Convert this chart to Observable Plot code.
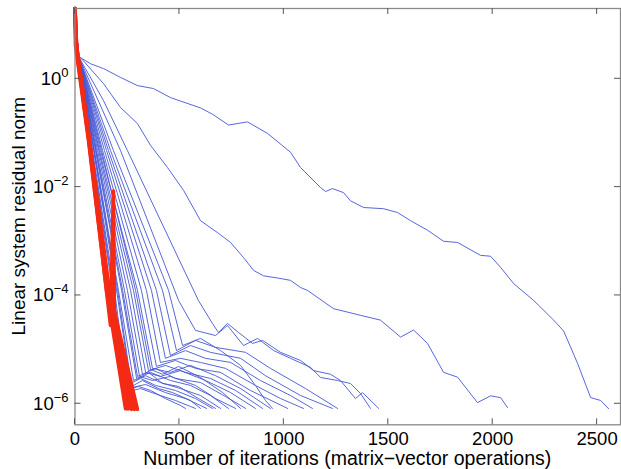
<!DOCTYPE html>
<html><head><meta charset="utf-8">
<script src="https://cdn.jsdelivr.net/npm/d3@7"></script>
<script src="https://cdn.jsdelivr.net/npm/@observablehq/plot@0.6"></script>
<style>
html,body{margin:0;padding:0;background:#fff;}
#chart{width:621px;height:469px;}
</style></head><body><div id="chart"></div>
<script>
const xTicks = [0, 500, 1000, 1500, 2000, 2500];
const yTicks = [1e0, 1e-2, 1e-4, 1e-6];
const xLabel = "Number of iterations (matrix\u2212vector operations)";
const yLabel = "Linear system residual norm";

// blue runs: [iteration, residual norm]
const blueRuns = [
  [[0,18],[17,2.58],[74,1.9],[136,1.55],[218,1.06],[299,0.75],[376,0.66],[457,0.45],[601,0.29],[660,0.22],[735,0.14],[826,0.16],[922,0.098],[1032,0.044],[1080,0.023],[1176,0.0098],[1200,0.0083],[1233,0.0094],[1286,0.0079],[1319,0.0056],[1382,0.0042],[1477,0.0040],[1544,0.0034],[1607,0.0024],[1688,0.0016],[1765,0.0010],[1832,0.00095],[1942,0.00055],[1990,0.00053],[2038,0.00033],[2100,0.000166],[2196,8.1e-5],[2292,3.5e-5],[2340,2.2e-5],[2407,5.5e-6],[2469,1.3e-6],[2517,1.15e-6],[2555,8.1e-7]],
  [[0,18],[17,2.58],[26,2.47],[136,0.82],[218,0.295],[299,0.149],[362,0.0587],[443,0.023],[520,0.0087],[601,0.0024],[682,0.00145],[745,0.00095],[807,0.0005],[855,0.00029],[903,0.00023],[970,0.00021],[1032,0.00019],[1080,1.4e-4],[1113,0.000124],[1238,5.7e-5],[1367,4.3e-5],[1463,3.5e-5],[1559,1.7e-5],[1621,2.3e-5],[1688,1.3e-5],[1765,3.8e-6],[1832,3.1e-6],[1927,1.05e-6],[1990,1.4e-6],[2038,1.3e-6],[2071,8.5e-7]],
  [[0,18],[17,2.58],[136,0.40],[251,0.0475],[591,8.07e-5],[658,3.04e-5],[687,2.07e-5],[730,3.04e-5],[783,2.07e-5],[850,1.30e-5],[898,1.48e-5],[984,8.9e-6],[1080,6.3e-6],[1142,4.1e-6],[1224,3.5e-6],[1271,2.69e-6],[1343,1.25e-6],[1377,1.61e-6],[1454,8.2e-7]],
  [[0,18],[17,2.58],[218,0.0475],[496,8.07e-5],[577,2.26e-5],[673,1.82e-5],[730,2.79e-5],[807,1.19e-5],[874,1.61e-5],[951,9.6e-6],[1032,6.9e-6],[1128,4.7e-6],[1176,3.06e-6],[1257,2.69e-6],[1319,2.37e-6],[1367,1.55e-6],[1415,8.2e-7]],
  [[0,18],[17,2.58],[79,0.0475],[180,1.24e-4],[237,1.61e-6],[314,1.91e-6],[409,1.42e-6],[481,1.15e-6],[553,8.9e-7],[577,8.2e-7]],
  [[0,18],[17,2.58],[81,0.0475],[184,1.24e-4],[247,1.76e-6],[304,2.09e-6],[362,1.76e-6],[433,1.25e-6],[505,9.3e-7],[529,8.2e-7]],
  [[0,18],[17,2.58],[84,0.0475],[189,1.24e-4],[251,1.91e-6],[338,2.27e-6],[433,1.61e-6],[529,1.25e-6],[601,9.3e-7],[630,8.2e-7]],
  [[0,18],[17,2.58],[89,0.0475],[199,1.24e-4],[266,2.37e-6],[314,2.93e-6],[386,2.18e-6],[481,1.76e-6],[577,1.25e-6],[658,8.2e-7]],
  [[0,18],[17,2.58],[91,0.0475],[204,1.24e-4],[271,2.09e-6],[323,2.69e-6],[400,1.91e-6],[467,1.61e-6],[553,1.15e-6],[601,8.2e-7]],
  [[0,18],[17,2.58],[93,0.0475],[208,1.24e-4],[280,2.69e-6],[338,3.3e-6],[409,2.47e-6],[505,1.91e-6],[601,1.42e-6],[697,8.2e-7]],
  [[0,18],[17,2.58],[98,0.0475],[223,1.24e-4],[295,2.93e-6],[362,3.8e-6],[457,2.69e-6],[553,2.18e-6],[649,1.42e-6],[735,8.2e-7]],
  [[0,18],[17,2.58],[100,0.0475],[228,1.24e-4],[299,3.2e-6],[352,3.8e-6],[419,2.37e-6],[496,2.09e-6],[591,1.25e-6],[673,8.2e-7]],
  [[0,18],[17,2.58],[103,0.0475],[237,1.24e-4],[309,3.2e-6],[371,2.69e-6],[457,3.2e-6],[577,2.18e-6],[673,1.25e-6],[769,8.2e-7]],
  [[0,18],[17,2.58],[108,0.0475],[251,1.24e-4],[323,3.5e-6],[386,4.5e-6],[481,2.93e-6],[601,2.47e-6],[721,1.36e-6],[817,8.2e-7]],
  [[0,18],[17,2.58],[113,0.0475],[266,1.24e-4],[338,3.8e-6],[409,3.2e-6],[505,4.1e-6],[625,2.69e-6],[745,1.61e-6],[864,8.2e-7]],
  [[0,18],[17,2.58],[117,0.0475],[280,1.24e-4],[352,4.1e-6],[433,5.1e-6],[529,3.8e-6],[649,2.93e-6],[769,1.76e-6],[898,8.2e-7]],
  [[0,18],[17,2.58],[122,0.0475],[299,1.24e-4],[371,4.5e-6],[457,3.8e-6],[553,5.1e-6],[673,3.3e-6],[793,1.91e-6],[936,8.2e-7]],
  [[0,18],[17,2.58],[127,0.0475],[290,1.24e-4],[362,4.3e-6],[419,3.5e-6],[496,4.9e-6],[601,3.06e-6],[707,1.61e-6],[793,8.2e-7]],
  [[0,18],[17,2.58],[132,0.0475],[318,1.24e-4],[390,4.9e-6],[481,6.3e-6],[577,4.5e-6],[697,3.8e-6],[840,1.76e-6],[1018,8.2e-7]],
  [[0,18],[17,2.58],[141,0.0475],[342,1.24e-4],[409,5.8e-6],[505,6.9e-6],[601,5.8e-6],[721,4.5e-6],[864,2.18e-6],[984,1.25e-6],[1094,8.2e-7]],
  [[0,18],[17,2.58],[151,0.0475],[366,1.24e-4],[433,6.9e-6],[529,9.6e-6],[625,6.9e-6],[745,5.8e-6],[888,2.69e-6],[1032,1.42e-6],[1137,8.2e-7]],
  [[0,18],[17,2.58],[160,0.0475],[390,1.24e-4],[457,7.8e-6],[553,1.19e-5],[649,8.9e-6],[793,6.9e-6],[912,3.3e-6],[1080,1.42e-6],[1233,8.2e-7]],
  [[0,18],[17,2.58],[170,0.0475],[419,1.24e-4],[486,9.6e-6],[577,1.48e-5],[673,1.10e-5],[817,8.9e-6],[936,4.5e-6],[1104,1.91e-6],[1257,8.2e-7]],
  [[0,18],[17,2.58],[184,0.0475],[448,1.24e-4],[515,1.19e-5],[601,1.61e-5],[697,9.6e-6],[793,5.1e-6],[864,2.18e-6],[912,1.15e-6],[946,8.2e-7]]
];

// red runs: [iteration, residual norm]
const redRuns = [
  [[0,19.8],[2.4,4.1],[64.7,0.072],[151,1.23e-4],[242,8.1e-7]],
  [[0,19.8],[4.8,4.1],[67,0.072],[156,1.23e-4],[256,8.1e-7]],
  [[0,19.8],[7.2,4.1],[69.4,0.072],[160,1.23e-4],[271,7.9e-7]],
  [[0,19.8],[7.2,4.1],[69.4,0.072],[160,1.23e-4],[285,7.9e-7]],
  [[0,19.8],[7.2,4.1],[69.4,0.072],[165,1.23e-4],[299,7.9e-7]],
  [[0,19.8],[4.8,4.1],[67,0.072],[170,2.8e-5],[184,8.5e-3],[189,2.2e-5],[251,8.1e-7]]
];

const toRows = runs => runs.flatMap((run, i) => run.map(([it, r]) => ({run: i, it, r})));
const blueRows = toRows(blueRuns);
const redRows = toRows(redRuns);

const plot = Plot.plot({
  width: 621, height: 469,
  marginLeft: 74.5, marginRight: 1, marginTop: 8, marginBottom: 44.7,
  style: {background: "#fff", fontFamily: "'Liberation Sans', Arial, sans-serif", fontSize: "18.5px", color: "#000", overflow: "visible"},
  x: {domain: [0, 2612]},
  y: {type: "log", domain: [4.09e-7, 19.86]},
  marks: [
    Plot.line(blueRows, {x: "it", y: "r", z: "run", stroke: "#4656d4", strokeWidth: 1, strokeOpacity: 0.9}),
    Plot.line(redRows, {x: "it", y: "r", z: "run", stroke: "#f42a14", strokeWidth: 3.6}),
    Plot.frame({stroke: "#8a8a8a", strokeWidth: 1.3}),
    Plot.axisX(xTicks, {anchor: "bottom", tickSize: 0, tickPadding: 7, label: null, fontSize: 18.5, tickFormat: d => String(d)}),
    Plot.axisY(yTicks, {anchor: "left", tickSize: 0, tickPadding: 6.5, label: null, fontSize: 18.5, tickFormat: d => "10^" + Math.round(Math.log10(d))})
  ]
});

document.getElementById("chart").appendChild(plot);

const svg = d3.select(plot);
svg.selectAll('g[aria-label="y-axis tick label"] text').each(function () {
  const t = d3.select(this);
  const [b, e] = t.text().split("^");
  t.text(b);
  t.append("tspan").attr("dy", "-0.62em").attr("font-size", "13px").text(e.replace("-", "\u2212"));
});

const sx = plot.scale("x"), sy = plot.scale("y");
const [x0, x1] = sx.range;
const [y0, y1] = sy.range;
const g = svg.append("g").attr("stroke", "#555").attr("stroke-width", 1);
for (const v of xTicks) {
  const px = sx.apply(v);
  g.append("line").attr("x1", px).attr("x2", px).attr("y1", y0).attr("y2", y0 - 6);
  g.append("line").attr("x1", px).attr("x2", px).attr("y1", y1).attr("y2", y1 + 6);
}
for (const v of yTicks) {
  const py = sy.apply(v);
  g.append("line").attr("x1", x0).attr("x2", x0 + 6).attr("y1", py).attr("y2", py);
  g.append("line").attr("x1", x1).attr("x2", x1 - 6).attr("y1", py).attr("y2", py);
}
svg.append("text").attr("x", (x0 + x1) / 2).attr("y", 465).attr("text-anchor", "middle").attr("fill", "#000").attr("font-size", "19.5px").text(xLabel);
svg.append("text").attr("transform", `translate(25,${(y0 + y1) / 2}) rotate(-90)`).attr("text-anchor", "middle").attr("fill", "#000").attr("font-size", "19px").text(yLabel);
</script>
</body></html>
